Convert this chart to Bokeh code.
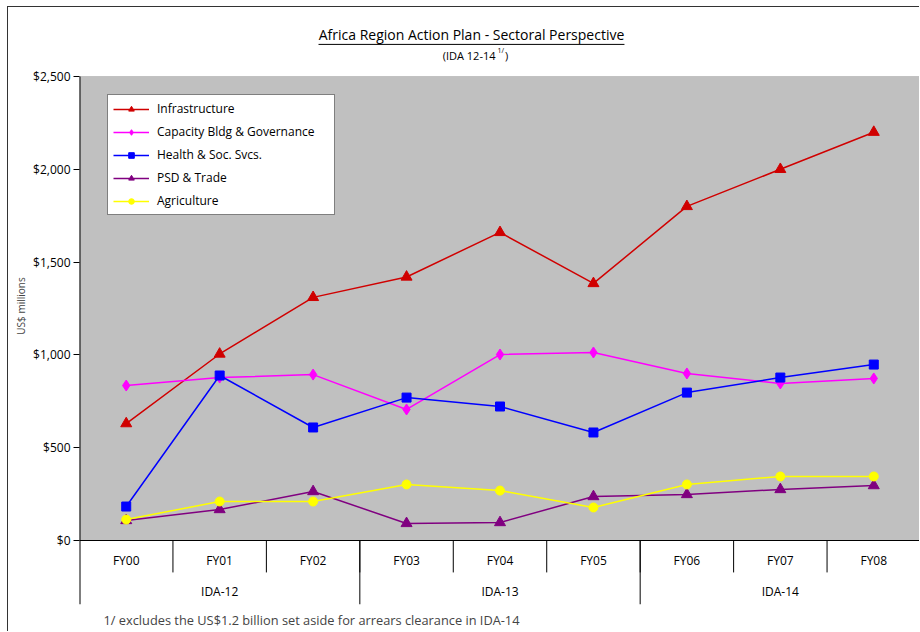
from bokeh.plotting import figure
from bokeh.models import (FactorRange, Range1d, FixedTicker, NumeralTickFormatter,
                          BoxAnnotation, Title)
from bokeh.core.properties import value
from bokeh.embed import file_html
from bokeh.resources import INLINE

# ---------------- data ----------------
fiscal_years = ["FY00", "FY01", "FY02", "FY03", "FY04", "FY05", "FY06", "FY07", "FY08"]
ida_groups = ["IDA-12", "IDA-13", "IDA-14"]
ida_members = [["FY00", "FY01", "FY02"], ["FY03", "FY04", "FY05"], ["FY06", "FY07", "FY08"]]

infrastructure = [630, 1005, 1310, 1420, 1660, 1385, 1800, 2000, 2200]
capacity = [835, 878, 894, 706, 1002, 1013, 900, 846, 873]
health = [183, 889, 609, 770, 722, 582, 797, 878, 948]
psd_trade = [108, 167, 264, 92, 97, 237, 248, 275, 296]
agriculture = [113, 210, 210, 302, 269, 178, 302, 345, 345]

y_ticks = [0, 500, 1000, 1500, 2000, 2500]

title_text = "Africa Region Action Plan - Sectoral Perspective"
subtitle_text = "(IDA 12-14"
subtitle_sup = "1/"
footnote_text = "1/  excludes the US$1.2 billion set aside for arrears clearance in IDA-14"
y_label = "US$ millions"

FONT = "Open Sans"
Y_BOTTOM = -344.8
Y_TOP = 2871.8

# ---------------- figure ----------------
p = figure(width=912, height=625, title=None,
           x_range=FactorRange(*fiscal_years, range_padding=0),
           y_range=Range1d(Y_BOTTOM, Y_TOP),
           output_backend="svg", toolbar_location=None,
           min_border_left=71, min_border_right=0, min_border_top=0, min_border_bottom=28)
p.styles = {"margin-left": "7px", "margin-top": "6px",
            "border-left": "1px solid #333", "border-top": "1px solid #333"}
p.outline_line_color = None
p.background_fill_color = "white"
p.border_fill_color = "white"
p.grid.visible = False
p.xaxis.visible = False

# y axis
yax = p.yaxis[0]
yax.ticker = FixedTicker(ticks=y_ticks)
yax.formatter = NumeralTickFormatter(format="$0,0")
yax.axis_line_color = None
yax.major_tick_in = 0
yax.major_tick_out = 6
yax.minor_tick_line_color = None
yax.major_tick_line_color = "black"
yax.major_label_standoff = 3
yax.major_label_text_font = FONT
yax.major_label_text_font_size = "12px"
yax.major_label_text_color = "black"
yax.axis_label = y_label
yax.axis_label_text_font = FONT
yax.axis_label_text_font_size = "10px"
yax.axis_label_text_font_style = "normal"
yax.axis_label_standoff = 2

# gray plot area
p.add_layout(BoxAnnotation(bottom=0, top=max(y_ticks), fill_color="#C0C0C0", fill_alpha=1,
                           line_color="#808080", line_width=1, level="underlay"))

first = fiscal_years[0]
last = fiscal_years[-1]
# axis lines
p.segment(x0=[(first, -0.5)], y0=[Y_BOTTOM], x1=[(first, -0.5)], y1=[max(y_ticks)],
          line_color="black", line_width=2)
p.segment(x0=[(first, -0.5)], y0=[0], x1=[(last, 0.5)], y1=[0], line_color="black", line_width=1)

# category separators
fy_sep = [(fy, -0.5) for fy in fiscal_years[1:]]
p.segment(x0=fy_sep, y0=[0] * len(fy_sep), x1=fy_sep, y1=[-172] * len(fy_sep),
          line_color="black", line_width=1)
grp_sep = [(m[0], -0.5) for m in ida_members[1:]]
p.segment(x0=grp_sep, y0=[0] * len(grp_sep), x1=grp_sep, y1=[Y_BOTTOM] * len(grp_sep),
          line_color="black", line_width=1)

# category labels
p.text(x=fiscal_years, y=[-108] * len(fiscal_years), text=fiscal_years,
       text_align="center", text_baseline="middle", text_font=value(FONT),
       text_font_size="12px", text_color="black")
p.text(x=[m[1] for m in ida_members], y=[-275] * len(ida_groups), text=ida_groups,
       text_align="center", text_baseline="middle", text_font=value(FONT),
       text_font_size="12px", text_color="black")

# title & subtitle
p.text(x=["FY04"], y=[2726], text=[title_text], x_offset=-28.5,
       text_align="center", text_baseline="middle", text_font=value(FONT),
       text_font_size="14px", text_color="black")
p.segment(x0=[("FY02", 0.058)], y0=[2673], x1=[("FY05", 0.332)], y1=[2673],
          line_color="black", line_width=1)
p.text(x=["FY04"], y=[2613], text=[subtitle_text], x_offset=-4.5,
       text_align="right", text_baseline="middle", text_font=value(FONT),
       text_font_size="11px", text_color="black")
p.text(x=["FY04"], y=[2638], text=[subtitle_sup], x_offset=-2.5,
       text_align="left", text_baseline="middle", text_font=value(FONT),
       text_font_size="7px", text_color="black")
p.text(x=["FY04"], y=[2613], text=[")"], x_offset=5,
       text_align="left", text_baseline="middle", text_font=value(FONT),
       text_font_size="11px", text_color="black")

# ---------------- series ----------------
series = [
    ("Infrastructure", infrastructure, "#D00000", "triangle", 11),
    ("Capacity Bldg & Governance", capacity, "#FF00FF", "diamond", 11),
    ("Health & Soc. Svcs.", health, "#0000FF", "square", 9),
    ("PSD & Trade", psd_trade, "#800080", "triangle", 11),
    ("Agriculture", agriculture, "#FFFF00", "circle", 9),
]
for name, vals, color, marker, size in series:
    p.line(fiscal_years, vals, line_color=color, line_width=1.5, legend_label=name)
    p.scatter(fiscal_years, vals, marker=marker, size=size, fill_color=color,
              line_color=color, legend_label=name)

lg = p.legend[0]
lg.location = (28, 389)
lg.border_line_color = "black"
lg.border_line_width = 1
lg.background_fill_color = "white"
lg.background_fill_alpha = 1
lg.padding = 5
lg.spacing = 6
lg.margin = 0
lg.glyph_width = 36
lg.glyph_height = 14
lg.label_height = 14
lg.label_standoff = 8
lg.label_width = 172
lg.label_text_font = FONT
lg.label_text_font_size = "12px"
lg.label_text_color = "black"

# footnote
p.add_layout(Title(text=footnote_text, align="left", offset=24, text_font=FONT,
                   text_font_size="12.8px", text_font_style="normal", standoff=8), "below")

open("out.html", "w").write(file_html(p, INLINE))
